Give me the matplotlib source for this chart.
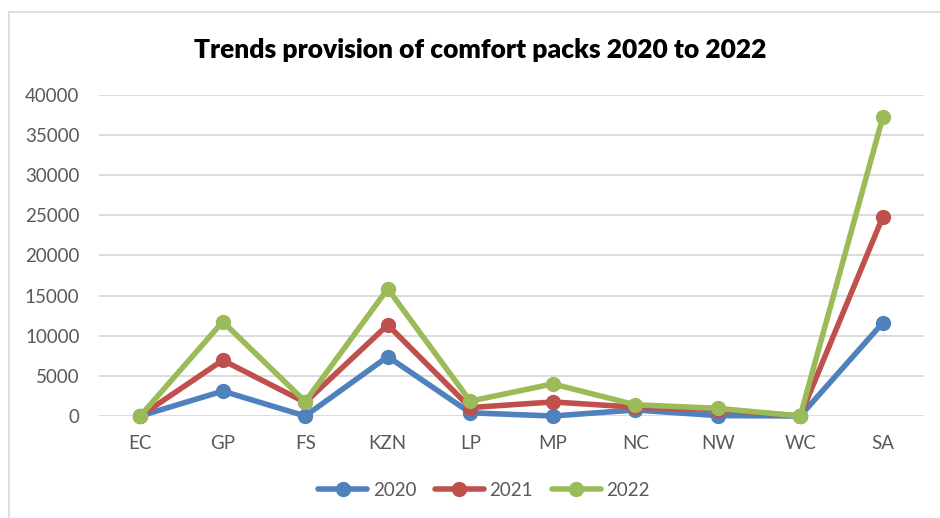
import matplotlib
matplotlib.use("Agg")
import matplotlib.pyplot as plt
from matplotlib.patches import Rectangle

provinces = ["EC", "GP", "FS", "KZN", "LP", "MP", "NC", "NW", "WC", "SA"]
packs_2020 = [0, 3100, 0, 7400, 400, 0, 750, 50, 0, 11600]
packs_2021 = [0, 6950, 1700, 11350, 1050, 1750, 1100, 800, 0, 24800]
packs_2022 = [0, 11750, 1800, 15850, 1850, 4000, 1400, 950, 0, 37200]
years = ["2020", "2021", "2022"]
colors = ["#4f81bd", "#c0504d", "#9bbb59"]
y_ticks = list(range(0, 40001, 5000))

plt.rcParams["font.family"] = ["Lato", "DejaVu Sans"]

fig = plt.figure(figsize=(9.4, 5.18), dpi=100)
W, H = 940, 518
ax = fig.add_axes([99 / W, 1 - 416 / H, (924 - 99) / W, (416 - 95) / H])

x = list(range(len(provinces)))
for series, label, c in zip([packs_2020, packs_2021, packs_2022], years, colors):
    ax.plot(x, series, color=c, lw=4, marker="o", ms=10, label=label,
            solid_joinstyle="round", solid_capstyle="round", clip_on=False, zorder=3)

ax.set_xlim(-0.5, len(provinces) - 0.5)
ax.set_ylim(0, 40000)
ax.set_yticks(y_ticks)
ax.set_yticklabels([str(v) for v in y_ticks])
ax.set_xticks(x)
ax.set_xticklabels(provinces)
ax.yaxis.grid(True, color="#d9d9d9", lw=1.3)
ax.set_axisbelow(True)
for s in ax.spines.values():
    s.set_visible(False)
ax.tick_params(axis="both", length=0, labelsize=13.5, colors="#595959")
ax.tick_params(axis="y", pad=14)
ax.tick_params(axis="x", pad=14)

fig.text(480 / W, 1 - 50 / H, "Trends provision of comfort packs 2020 to 2022",
         ha="center", va="center", fontsize=19, fontweight="heavy", color="black")

leg = fig.legend(loc="center", bbox_to_anchor=(484 / W, 1 - 490 / H), ncol=3,
                 frameon=False, fontsize=13.5, handlelength=2.6, columnspacing=1.0,
                 handletextpad=0.3)
for t in leg.get_texts():
    t.set_color("#595959")

fig.patches.append(Rectangle((9 / W, -0.01), 1.0, 1 - 12 / H + 0.01, transform=fig.transFigure,
                             fill=False, edgecolor="#d9d9d9", lw=1.2))

fig.savefig("out.png", dpi=100)
